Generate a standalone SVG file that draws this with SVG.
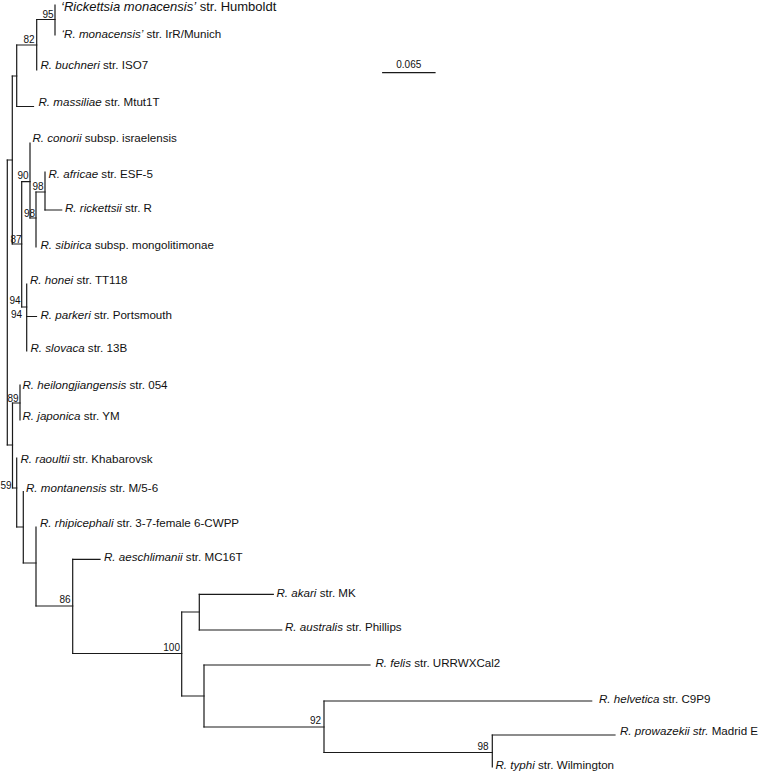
<svg xmlns="http://www.w3.org/2000/svg" width="761" height="772" viewBox="0 0 761 772">
<style>
.br{stroke:#1a1a1a;stroke-width:1.2;fill:none;stroke-linecap:square}
.lb{font-family:"Liberation Sans",Arial,sans-serif;font-size:11.6px;fill:#111}
.big{font-size:13px}
.bs{font-family:"Liberation Sans",Arial,sans-serif;font-size:10px;fill:#111;text-anchor:end}
.i{font-style:italic}
</style>
<rect width="761" height="772" fill="#fff"/>
<g id="branches">
<path class="br" d="M7.3 160V445M12.3 76V244M16.7 45V106.5M36.7 19.5V70M55 5V35M21.7 181.7V307M30 143V218M36 192V247M45 172V210M26.7 284V351M12.5 403V488M20 385V420M16.7 458V527M23.3 491.7V563M36 527V606M72.7 559.3V653.5M181.7 612V696M199.3 594.3V630M204 665V727M324 701V752.5M492.3 735V767"/>
<path class="br" d="M7.3 160H12.3M12.3 76H16.7M16.7 45H36.7M36.7 19.5H55M16.7 106.5H33.5M12.3 244H21.7M21.7 181.7H30M30 218H36M36 192H45M45 210H61.7M21.7 307H26.7M26.7 316.5H36.5M7.3 445H12.5M12.5 403H20M12.5 488H16.7M16.7 527H23.3M23.3 563H36M36 606H72.7M72.7 559.3H100M72.7 653.5H181.7M181.7 612H199.3M199.3 594.3H273.3M199.3 630H281.7M181.7 696H204M204 665H370M204 727H324M324 701H591.7M324 752.5H492.3M492.3 735H615"/>
</g>
<g id="bootstrap">
<g id="n95"><text class="bs" x="53.5" y="17.5">95</text></g>
<g id="n82"><text class="bs" x="34.5" y="43">82</text></g>
<g id="n90"><text class="bs" x="28.5" y="179">90</text></g>
<g id="n98a"><text class="bs" x="43.5" y="190">98</text></g>
<g id="n98b"><text class="bs" x="35" y="217">98</text></g>
<g id="n87"><text class="bs" x="21.7" y="242.5">87</text></g>
<g id="n94a"><text class="bs" x="20.5" y="304">94</text></g>
<g id="n94b"><text class="bs" x="22" y="317.5">94</text></g>
<g id="n89"><text class="bs" x="18.5" y="402">89</text></g>
<g id="n59"><text class="bs" x="11.7" y="489">59</text></g>
<g id="n86"><text class="bs" x="70.5" y="603">86</text></g>
<g id="n100"><text class="bs" x="180" y="651">100</text></g>
<g id="n92"><text class="bs" x="321" y="724">92</text></g>
<g id="n98c"><text class="bs" x="488.5" y="750">98</text></g>
</g>
<g id="leaves">
<g id="humboldt"><text class="lb big" x="61" y="10.5"><tspan class="i">‘Rickettsia monacensis’</tspan> str. Humboldt</text></g>
<g id="irr"><text class="lb" x="61.5" y="38"><tspan class="i">‘R. monacensis’</tspan> str. IrR/Munich</text></g>
<g id="buchneri"><text class="lb" x="40.5" y="68.5"><tspan class="i">R. buchneri</tspan> str. ISO7</text></g>
<g id="massiliae"><text class="lb" x="38.5" y="106"><tspan class="i">R. massiliae</tspan> str. Mtut1T</text></g>
<g id="conorii"><text class="lb" x="32.5" y="141.5"><tspan class="i">R. conorii</tspan> subsp. israelensis</text></g>
<g id="africae"><text class="lb" x="48.5" y="178"><tspan class="i">R. africae</tspan> str. ESF-5</text></g>
<g id="rickettsii"><text class="lb" x="65" y="212"><tspan class="i">R. rickettsii</tspan> str. R</text></g>
<g id="sibirica"><text class="lb" x="40.5" y="248.5"><tspan class="i">R. sibirica</tspan> subsp. mongolitimonae</text></g>
<g id="honei"><text class="lb" x="30" y="283.5"><tspan class="i">R. honei</tspan> str. TT118</text></g>
<g id="parkeri"><text class="lb" x="40.5" y="318.5"><tspan class="i">R. parkeri</tspan> str. Portsmouth</text></g>
<g id="slovaca"><text class="lb" x="30.5" y="351.5"><tspan class="i">R. slovaca</tspan> str. 13B</text></g>
<g id="heilongjiangensis"><text class="lb" x="22.5" y="388.5"><tspan class="i">R. heilongjiangensis</tspan> str. 054</text></g>
<g id="japonica"><text class="lb" x="22.5" y="420"><tspan class="i">R. japonica</tspan> str. YM</text></g>
<g id="raoultii"><text class="lb" x="20.5" y="463"><tspan class="i">R. raoultii</tspan> str. Khabarovsk</text></g>
<g id="montanensis"><text class="lb" x="26" y="491.5"><tspan class="i">R. montanensis</tspan> str. M/5-6</text></g>
<g id="rhipicephali"><text class="lb" x="40" y="527"><tspan class="i">R. rhipicephali</tspan> str. 3-7-female 6-CWPP</text></g>
<g id="aeschlimanii"><text class="lb" x="104" y="561"><tspan class="i">R. aeschlimanii</tspan> str. MC16T</text></g>
<g id="akari"><text class="lb" x="276.5" y="596.5"><tspan class="i">R. akari</tspan> str. MK</text></g>
<g id="australis"><text class="lb" x="285" y="631"><tspan class="i">R. australis</tspan> str. Phillips</text></g>
<g id="felis"><text class="lb" x="375.5" y="666.5"><tspan class="i">R. felis</tspan> str. URRWXCal2</text></g>
<g id="helvetica"><text class="lb" x="599" y="703.3"><tspan class="i">R. helvetica</tspan> str. C9P9</text></g>
<g id="prowazekii"><text class="lb" x="620" y="735"><tspan class="i">R. prowazekii str.</tspan> Madrid E</text></g>
<g id="typhi"><text class="lb" x="495.5" y="769"><tspan class="i">R. typhi</tspan> str. Wilmington</text></g>
</g>
<g id="scale">
<path class="br" d="M382.7 72.7H435"/>
<text class="bs" x="408.8" y="68" style="text-anchor:middle">0.065</text>
</g>
</svg>
